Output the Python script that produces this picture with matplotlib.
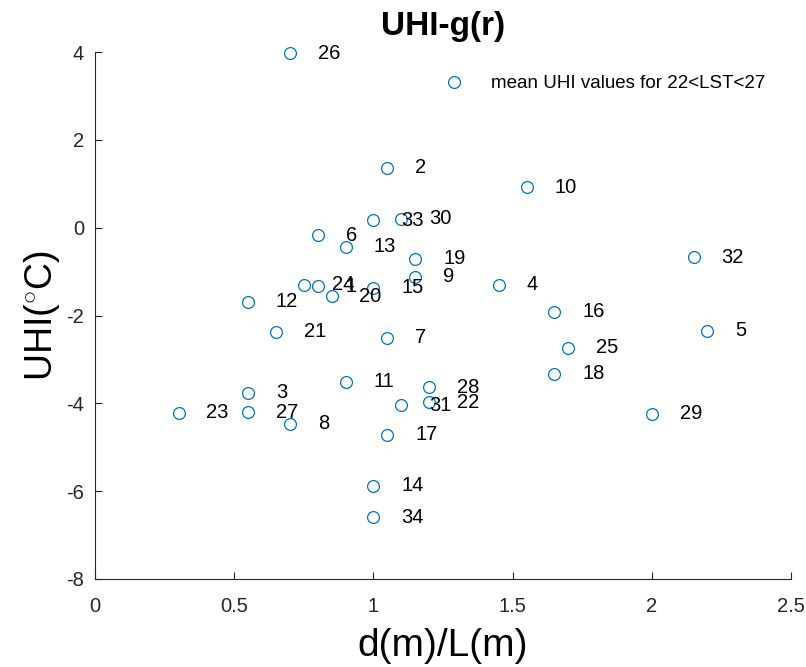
import matplotlib
matplotlib.use('Agg')
import matplotlib.pyplot as plt

plt.rcParams['font.family'] = ['Liberation Sans', 'DejaVu Sans']
plt.rcParams['mathtext.fontset'] = 'custom'
plt.rcParams['mathtext.rm'] = 'Liberation Sans'
plt.rcParams['axes.unicode_minus'] = False

# 数据：站点编号、d/L 比值、UHI 值
ids = list(range(1, 35))
ratio = [0.80, 1.05, 0.55, 1.45, 2.20, 0.80, 1.05, 0.70, 1.15, 1.55,
         0.90, 0.55, 0.90, 1.00, 1.00, 1.65, 1.05, 1.65, 1.15, 0.85,
         0.65, 1.20, 0.30, 0.75, 1.70, 0.70, 0.55, 1.20, 2.00, 1.10,
         1.10, 2.15, 1.00, 1.00]
uhi = [-1.33, 1.36, -3.76, -1.30, -2.35, -0.17, -2.51, -4.47, -1.12, 0.92,
       -3.51, -1.69, -0.44, -5.88, -1.37, -1.92, -4.72, -3.33, -0.71, -1.56,
       -2.37, -3.97, -4.22, -1.30, -2.74, 3.97, -4.20, -3.63, -4.24, 0.20,
       -4.04, -0.67, 0.17, -6.59]

xticks = [0, 0.5, 1, 1.5, 2, 2.5]
yticks = [-8, -6, -4, -2, 0, 2, 4]

blue = (0, 0.447, 0.741)
grey = (0.15, 0.15, 0.15)

fig = plt.figure(figsize=(8.06, 6.67), dpi=100)
ax = fig.add_axes([95/806, 88/667, 696/806, 527/667])

ax.plot(ratio, uhi, 'o', ms=8.5, mfc='none', mec=blue, mew=0.9,
        clip_on=False, label='mean UHI values for 22<LST<27')

# 标注编号
for i, x, y in zip(ids, ratio, uhi):
    ax.text(x + 0.1, y, str(i), fontsize=14.5, ha='left', va='center')

ax.set_xlim(0, 2.5)
ax.set_ylim(-8, 4)
ax.set_xticks(xticks)
ax.set_xticklabels(['0', '0.5', '1', '1.5', '2', '2.5'])
ax.set_yticks(yticks)
ax.tick_params(direction='in', length=5, width=0.8, colors=grey,
               labelsize=14.5)
ax.tick_params(axis='x', pad=13)
ax.tick_params(axis='y', pad=8)
ax.spines['top'].set_visible(False)
ax.spines['right'].set_visible(False)
for s in ['left', 'bottom']:
    ax.spines[s].set_color(grey)
    ax.spines[s].set_linewidth(0.8)

ax.set_xlabel('d(m)/L(m)', fontsize=28, labelpad=8.5)
ax.set_ylabel(r'UHI($^{\circ}$C)', fontsize=27, labelpad=3)
ax.set_title('UHI-g(r)', fontsize=24, fontweight='bold', pad=12)

ax.legend(loc='upper right', frameon=False, fontsize=13.5, handlelength=1.0,
          handletextpad=1.5, bbox_to_anchor=(0.988, 0.988))

fig.savefig('out.png', dpi=100)
